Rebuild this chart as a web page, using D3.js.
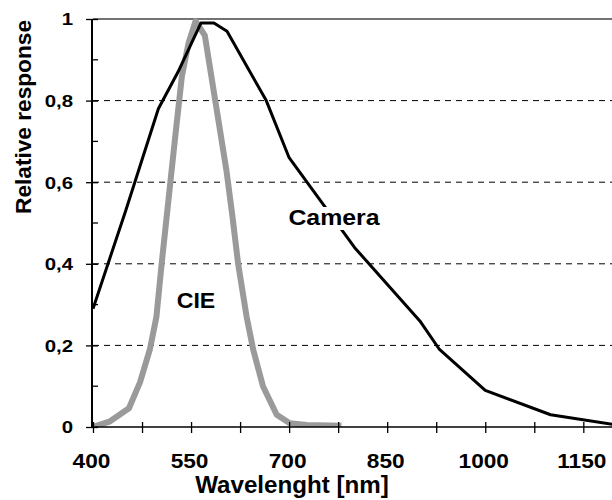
<!DOCTYPE html>
<html>
<head>
<meta charset="utf-8">
<script src="https://cdn.jsdelivr.net/npm/d3@7"></script>
<style>
  html, body { margin: 0; padding: 0; background: #fff; }
  svg { display: block; }
  text { font-family: "Liberation Sans", Arial, sans-serif; font-weight: bold; fill: #000; }
</style>
</head>
<body>
<svg id="chart" width="612" height="500"></svg>
<script>
// ---- data ----
const cameraWavelength = [400, 450, 500, 530, 565, 585, 605, 665, 700, 800, 900, 930, 1000, 1100, 1200];
const cameraResponse   = [0.29, 0.53, 0.78, 0.87, 0.99, 0.99, 0.97, 0.80, 0.66, 0.44, 0.26, 0.19, 0.09, 0.03, 0.005];

const cieWavelength = [400, 425, 455, 472, 487, 497, 505, 513, 525, 536, 546, 557, 571, 589, 604, 613, 622, 635, 645, 660, 681, 701, 727, 780];
const cieResponse   = [0, 0.013, 0.046, 0.11, 0.19, 0.27, 0.40, 0.52, 0.70, 0.86, 0.94, 0.995, 0.96, 0.78, 0.63, 0.52, 0.40, 0.27, 0.19, 0.10, 0.03, 0.009, 0.005, 0.003];

const xTickValues = [400, 475, 550, 625, 700, 775, 850, 925, 1000, 1075, 1150];
const xTickLabels = [400, 550, 700, 850, 1000, 1150];
const yMajorTicks = [0, 0.2, 0.4, 0.6, 0.8, 1];
const yMinorTicks = [0.1, 0.3, 0.5, 0.7, 0.9];
const yTickLabels = ["0", "0,2", "0,4", "0,6", "0,8", "1"];
const gridValues = [0.2, 0.4, 0.6, 0.8];

const xTitle = "Wavelenght [nm]";
const yTitle = "Relative response";
const cameraLabel = "Camera";
const cieLabel = "CIE";

// ---- scales ----
const svg = d3.select("#chart");
const x = d3.scaleLinear().domain([400, 1200]).range([93, 616]);
const y = d3.scaleLinear().domain([0, 1]).range([427, 19]);
const right = 612;

// stretch helper: widen glyphs horizontally like the bitmap font of the original
function stretch(sel, factor) {
  sel.each(function () {
    const w = this.getComputedTextLength();
    if (w > 0) {
      d3.select(this).attr("textLength", w * factor).attr("lengthAdjust", "spacingAndGlyphs");
    }
  });
}

// gridlines
svg.append("g").selectAll("line").data(gridValues).join("line")
  .attr("x1", x(400)).attr("x2", right)
  .attr("y1", d => y(d)).attr("y2", d => y(d))
  .attr("stroke", "#000").attr("stroke-width", 1)
  .attr("stroke-dasharray", "6,5");

// top border
svg.append("line")
  .attr("x1", x(400)).attr("x2", right)
  .attr("y1", y(1)).attr("y2", y(1))
  .attr("stroke", "#444").attr("stroke-width", 1.5);

// clip for data lines
svg.append("clipPath").attr("id", "plotclip").append("rect")
  .attr("x", x(400)).attr("y", 0).attr("width", right - x(400)).attr("height", y(0));

const line = d3.line().x(d => x(d[0])).y(d => y(d[1]));

const cieData = cieWavelength.map((w, i) => [w, cieResponse[i]]);
const camData = cameraWavelength.map((w, i) => [w, cameraResponse[i]]);

const plot = svg.append("g").attr("clip-path", "url(#plotclip)");

plot.append("path").datum(cieData)
  .attr("d", line)
  .attr("fill", "none")
  .attr("stroke", "#9a9a9a")
  .attr("stroke-width", 6)
  .attr("stroke-linejoin", "round");

plot.append("path").datum(camData)
  .attr("d", line)
  .attr("fill", "none")
  .attr("stroke", "#000")
  .attr("stroke-width", 3)
  .attr("stroke-linejoin", "round");

// labels in plot
const camText = svg.append("text")
  .attr("x", 334).attr("y", 225)
  .attr("text-anchor", "middle")
  .attr("font-size", 22)
  .text(cameraLabel);
stretch(camText, 1.13);
const bb = camText.node().getBBox();
svg.insert("rect", "text")
  .attr("x", bb.x - 2).attr("y", bb.y + 2).attr("width", bb.width + 4).attr("height", bb.height - 2)
  .attr("fill", "#fff");

const cieText = svg.append("text")
  .attr("x", 196).attr("y", 308)
  .attr("text-anchor", "middle")
  .attr("font-size", 22)
  .text(cieLabel);
stretch(cieText, 1.05);

// ---- axes ----
const xAxis = d3.axisBottom(x).tickValues(xTickValues).tickSize(6)
  .tickFormat(d => xTickLabels.includes(d) ? d : "");
const gx = svg.append("g").attr("transform", `translate(0,${y(0)})`).call(xAxis);
gx.select(".domain").remove();
gx.selectAll(".tick line").attr("y1", -5).attr("y2", 6).attr("stroke", "#000").attr("stroke-width", 1.3);
gx.selectAll(".tick text")
  .attr("y", 41).attr("dy", 0).attr("dx", -2)
  .attr("font-size", 21)
  .style("font-family", '"Liberation Sans", Arial, sans-serif')
  .style("font-weight", "bold");
stretch(gx.selectAll(".tick text"), 1.08);
svg.append("line")
  .attr("x1", x(400)).attr("x2", right)
  .attr("y1", y(0)).attr("y2", y(0))
  .attr("stroke", "#000").attr("stroke-width", 1.5);

const yAxis = d3.axisLeft(y).tickValues(yMajorTicks).tickSize(6)
  .tickFormat((d, i) => yTickLabels[i]);
const gy = svg.append("g").attr("transform", `translate(${x(400) - 1},0)`).call(yAxis);
gy.select(".domain").remove();
gy.selectAll(".tick line").attr("x1", -6).attr("x2", 6).attr("stroke", "#000").attr("stroke-width", 1.3);
gy.selectAll(".tick text")
  .attr("x", -19).attr("dy", "0.35em")
  .attr("font-size", 17)
  .style("font-family", '"Liberation Sans", Arial, sans-serif')
  .style("font-weight", "bold");
stretch(gy.selectAll(".tick text"), 1.2);

svg.append("g").selectAll("line").data(yMinorTicks).join("line")
  .attr("x1", x(400) - 1).attr("x2", x(400) + 5)
  .attr("y1", d => y(d)).attr("y2", d => y(d))
  .attr("stroke", "#000").attr("stroke-width", 1.3);

svg.append("line")
  .attr("x1", x(400) - 1).attr("x2", x(400) - 1)
  .attr("y1", y(1)).attr("y2", y(0))
  .attr("stroke", "#000").attr("stroke-width", 2);

// titles
const xt = svg.append("text")
  .attr("x", 292).attr("y", 493)
  .attr("text-anchor", "middle")
  .attr("font-size", 23)
  .text(xTitle);
stretch(xt, 1.05);

const yt = svg.append("text")
  .attr("transform", "translate(31,117) rotate(-90)")
  .attr("text-anchor", "middle")
  .attr("font-size", 22)
  .text(yTitle);
stretch(yt, 1.03);
</script>
</body>
</html>
